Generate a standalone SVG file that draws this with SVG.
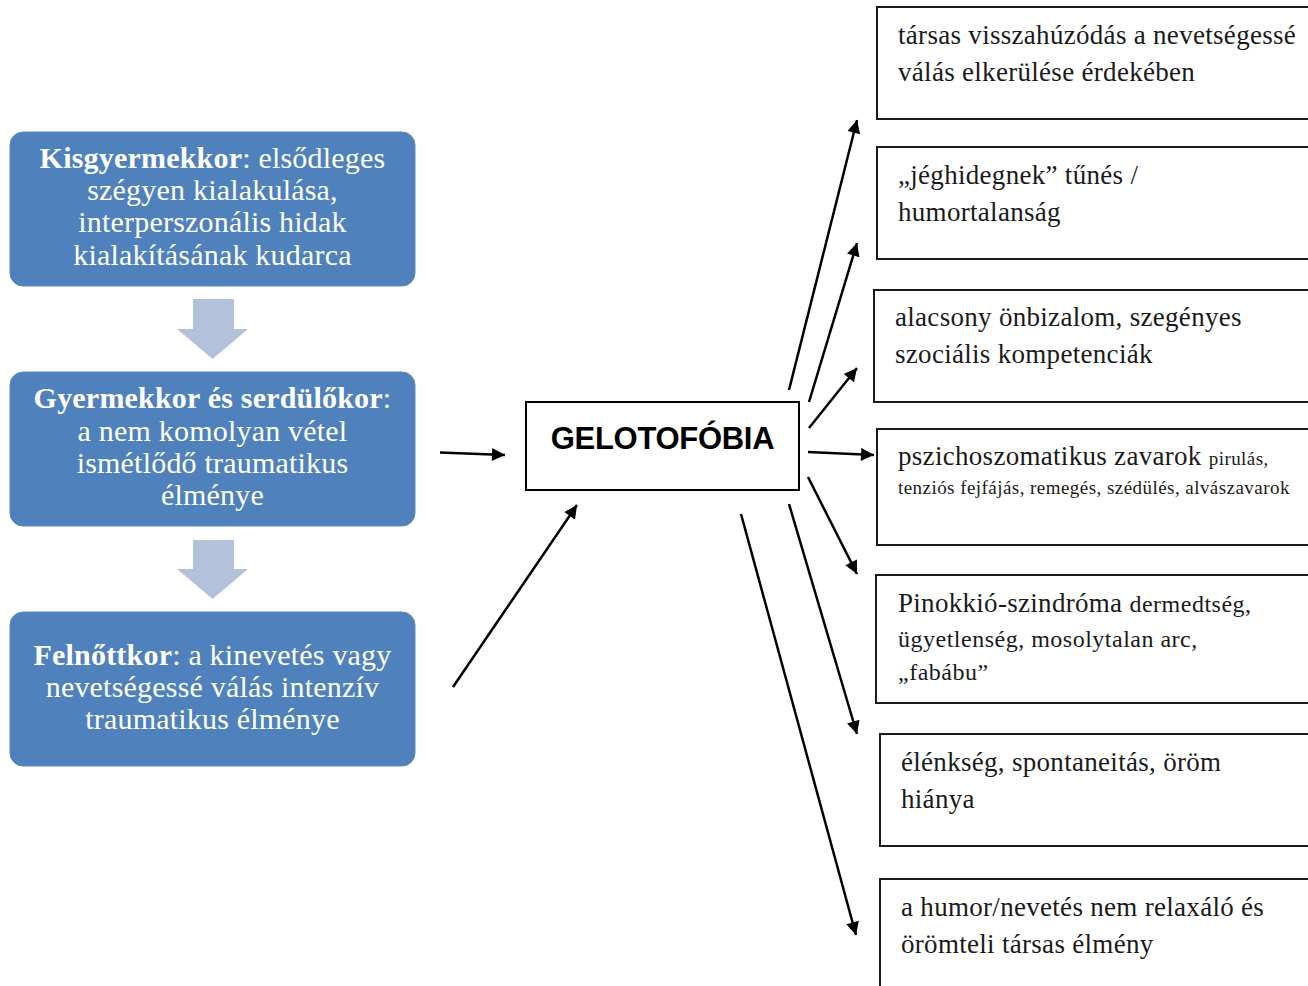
<svg xmlns="http://www.w3.org/2000/svg" width="1308" height="986" viewBox="0 0 1308 986">
<style>
.stage{fill:#4F81BD;stroke:#5A8AC4;stroke-width:1}
.stxt{font-family:"Liberation Serif",serif;font-size:30px;fill:#fff;text-anchor:middle;letter-spacing:0.2px}
.b{font-weight:bold}
.down{fill:#B3C1DB}
.box{fill:#fff;stroke:#1a1a1a;stroke-width:2}
.rtxt{font-family:"Liberation Serif",serif;font-size:27px;fill:#1a1a1a;letter-spacing:0.3px}
.sm{font-size:19px;letter-spacing:0.45px}
.md{font-size:24px;letter-spacing:0.5px}
.conn line{stroke:#000;stroke-width:2.5;marker-end:url(#ah)}
</style>
<defs>
<marker id="ah" viewBox="0 0 10 10" refX="10" refY="5" markerWidth="16" markerHeight="13" markerUnits="userSpaceOnUse" orient="auto">
<path d="M0,0 L10,5 L0,10 z" fill="#000"/>
</marker>
</defs>
<rect width="1308" height="986" fill="#fff"/>

<g id="stage1">
<rect class="stage" x="10" y="132" width="405" height="154" rx="13"/>
<text class="stxt" x="212.5" y="168"><tspan class="b">Kisgyermekkor</tspan>: elsődleges</text>
<text class="stxt" x="212.5" y="200">szégyen kialakulása,</text>
<text class="stxt" x="212.5" y="232">interperszonális hidak</text>
<text class="stxt" x="212.5" y="265">kialakításának kudarca</text>
</g>
<g id="down1"><path class="down" d="M193,299 H234 V329 H248 L212.5,359 L177,329 H193 Z"/></g>
<g id="stage2">
<rect class="stage" x="10" y="372" width="405" height="154" rx="13"/>
<text class="stxt" x="212.5" y="408"><tspan class="b">Gyermekkor és serdülőkor</tspan>:</text>
<text class="stxt" x="212.5" y="441">a nem komolyan vétel</text>
<text class="stxt" x="212.5" y="473">ismétlődő traumatikus</text>
<text class="stxt" x="212.5" y="505">élménye</text>
</g>
<g id="down2"><path class="down" d="M193,540 H234 V569 H248 L212.5,599 L177,569 H193 Z"/></g>
<g id="stage3">
<rect class="stage" x="10" y="612" width="405" height="154" rx="13"/>
<text class="stxt" x="212.5" y="665"><tspan class="b">Felnőttkor</tspan>: a kinevetés vagy</text>
<text class="stxt" x="212.5" y="697">nevetségessé válás intenzív</text>
<text class="stxt" x="212.5" y="729">traumatikus élménye</text>
</g>

<g id="center">
<rect x="526" y="402" width="273" height="88" fill="#fff" stroke="#000" stroke-width="2"/>
<text x="662.5" y="449" font-family="Liberation Sans, Arial, sans-serif" font-weight="bold" font-size="31" text-anchor="middle" fill="#000" letter-spacing="-0.3">GELOTOFÓBIA</text>
</g>

<g id="r1">
<rect class="box" x="877" y="7" width="440" height="112"/>
<text class="rtxt" x="898" y="44">társas visszahúzódás a nevetségessé</text>
<text class="rtxt" x="898" y="81">válás elkerülése érdekében</text>
</g>
<g id="r2">
<rect class="box" x="877" y="147" width="440" height="112"/>
<text class="rtxt" x="898" y="184">„jéghidegnek” tűnés /</text>
<text class="rtxt" x="898" y="221">humortalanság</text>
</g>
<g id="r3">
<rect class="box" x="874" y="290" width="440" height="112"/>
<text class="rtxt" x="895" y="326">alacsony önbizalom, szegényes</text>
<text class="rtxt" x="895" y="363">szociális kompetenciák</text>
</g>
<g id="r4">
<rect class="box" x="877" y="429" width="440" height="116"/>
<text class="rtxt" x="898" y="465">pszichoszomatikus zavarok <tspan class="sm">pirulás,</tspan></text>
<text class="rtxt sm" x="898" y="494">tenziós fejfájás, remegés, szédülés, alvászavarok</text>
</g>
<g id="r5">
<rect class="box" x="876" y="575" width="440" height="128"/>
<text class="rtxt" x="898" y="612">Pinokkió-szindróma <tspan class="md">dermedtség,</tspan></text>
<text class="rtxt md" x="898" y="647">ügyetlenség, mosolytalan arc,</text>
<text class="rtxt md" x="898" y="680">„fabábu”</text>
</g>
<g id="r6">
<rect class="box" x="880" y="734" width="440" height="112"/>
<text class="rtxt" x="901" y="771">élénkség, spontaneitás, öröm</text>
<text class="rtxt" x="901" y="808">hiánya</text>
</g>
<g id="r7">
<rect class="box" x="880" y="879" width="440" height="130"/>
<text class="rtxt" x="901" y="916">a humor/nevetés nem relaxáló és</text>
<text class="rtxt" x="901" y="953">örömteli társas élmény</text>
</g>

<g id="connectors" class="conn">
<line x1="440" y1="452.5" x2="505" y2="455"/>
<line x1="453" y1="687" x2="577" y2="505"/>
<line x1="789" y1="390" x2="857" y2="120"/>
<line x1="809" y1="402" x2="857" y2="243"/>
<line x1="809" y1="428" x2="857" y2="368"/>
<line x1="808" y1="452" x2="874" y2="455"/>
<line x1="808" y1="477" x2="857" y2="574"/>
<line x1="789" y1="504" x2="857" y2="734"/>
<line x1="741" y1="514" x2="856" y2="935"/>
</g>
</svg>
